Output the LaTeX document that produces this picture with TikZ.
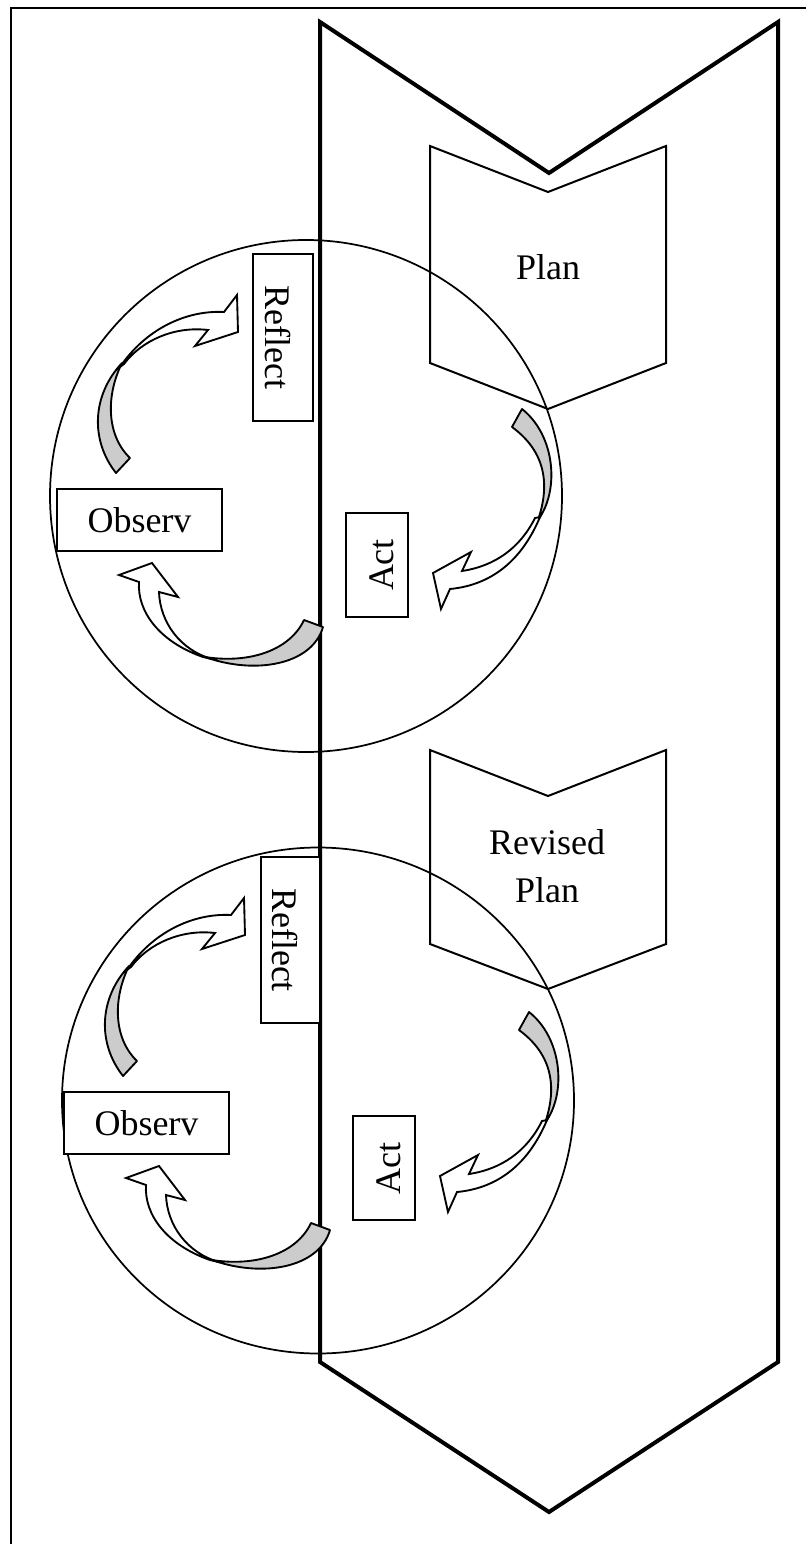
\documentclass[tikz,border=0pt]{standalone}
\usepackage{fontspec}
\setmainfont{Liberation Serif}
\definecolor{CycleInk}{HTML}{000000}
\definecolor{CycleShade}{HTML}{CCCCCC}
\tikzset{
  frameline/.style={draw=CycleInk,line width=2pt},
  trackline/.style={draw=CycleInk,line width=3pt,line join=miter},
  planshape/.style={draw=CycleInk,line width=1.5pt,line join=miter},
  loopline/.style={draw=CycleInk,line width=1.3pt},
  stepbox/.style={draw=CycleInk,line width=1.5pt,fill=white,inner sep=0pt,
    font=\fontsize{27}{36}\selectfont},
  reflectbox/.style={stepbox,rotate=-90,text height=27pt,text depth=0pt},
  actbox/.style={stepbox,rotate=90,text height=24pt,text depth=0pt},
  planlabel/.style={align=center,inner sep=0pt,font=\fontsize{27}{36}\selectfont},
  backband/.style={draw=CycleInk,line width=1.4pt,fill=CycleShade,line join=round},
  frontband/.style={draw=CycleInk,line width=1.4pt,fill=white,line join=miter}
}
% the three twisted block arrows of one cycle
\newcommand{\looparrows}{%
  % reflect
  \draw[backband] (116,473) .. controls (90,440) and (92,395) .. (122,363)
    .. controls (106,395) and (106,435) .. (130,458) -- cycle;
  \draw[frontband] (120,367) .. controls (145,330) and (185,310) .. (224,312)
    -- (237,295) -- (238,332) -- (195,346) -- (208,330)
    .. controls (175,326) and (142,340) .. (124,364) -- cycle;
  % observe
  \draw[backband] (323,627) .. controls (312,665) and (255,675) .. (205,657)
    .. controls (250,664) and (290,650) .. (304,620) -- cycle;
  \draw[frontband] (203,657) .. controls (160,642) and (137,612) .. (139,582)
    -- (119,575) -- (152,563) -- (178,597) -- (159,592)
    .. controls (160,622) and (180,650) .. (212,659) -- cycle;
  % act
  \draw[backband] (522,409) .. controls (555,435) and (560,490) .. (538,520)
    .. controls (550,485) and (546,452) .. (512,427) -- cycle;
  \draw[frontband] (540,517) .. controls (522,560) and (492,585) .. (450,589)
    -- (441,609) -- (433,573) -- (471,552) -- (462,571)
    .. controls (495,566) and (520,548) .. (535,518) -- cycle;
}

\begin{document}
\begin{tikzpicture}[x=0.75pt,y=-0.75pt]
  \useasboundingbox (0,0) rectangle (806,1544);

  \draw[frameline] (11,1544) -- (11,8) -- (806,8);
  \draw[trackline] (320,22) -- (549,173) -- (778,22) -- (778,1362) -- (549,1512) -- (320,1362) -- cycle;

  % first cycle
  \draw[planshape] (430,146) -- (548,192) -- (666,146) -- (666,363) -- (548,409) -- (430,363) -- cycle;
  \node[planlabel] (planA) at (548,267) {Plan};
  \draw[loopline] (306,496) circle[radius=256];
  \looparrows
  \node[reflectbox,minimum width=125pt,minimum height=45pt] (reflectA) at (283,337.5) {Reflect\hspace{13.5pt}};
  \node[stepbox,minimum width=124pt,minimum height=46.5pt] (observA) at (139.5,520) {Observ};
  \node[actbox,minimum width=78pt,minimum height=46.5pt] (actA) at (377,565) {Act};

  % second cycle
  \draw[planshape] (430,750) -- (548,796) -- (666,750) -- (666,944) -- (548,989) -- (430,944) -- cycle;
  \node[planlabel] (planB) at (547,866) {Revised\\Plan};
  \draw[loopline] (318,1100.5) ellipse[x radius=256,y radius=253];
  \begin{scope}[shift={(7,603)}]
    \looparrows
  \end{scope}
  \node[reflectbox,minimum width=125pt,minimum height=44.25pt] (reflectB) at (290.5,940) {Reflect\hspace{13.5pt}};
  \node[stepbox,minimum width=124pt,minimum height=46.5pt] (observB) at (146.5,1123) {Observ};
  \node[actbox,minimum width=78pt,minimum height=46.5pt] (actB) at (384,1168) {Act};
\end{tikzpicture}
\end{document}
